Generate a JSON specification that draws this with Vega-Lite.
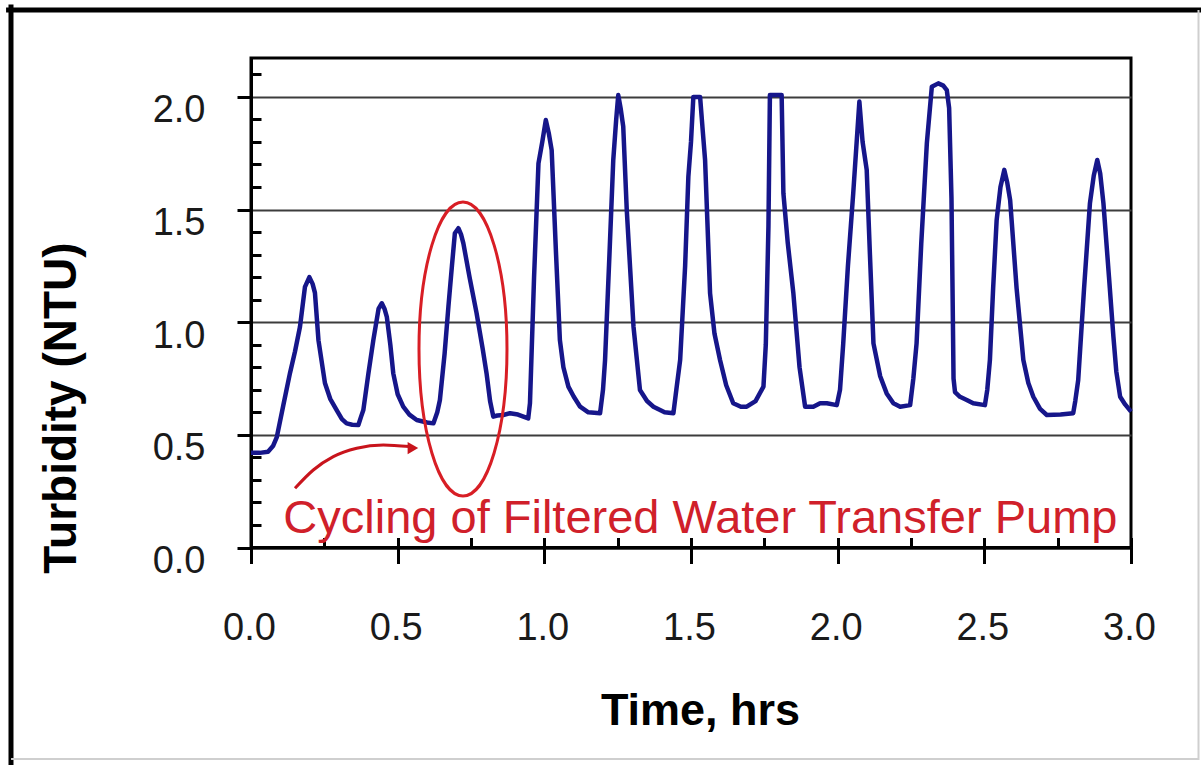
{
  "$schema": "https://vega.github.io/schema/vega-lite/v6.json",
  "width": 880,
  "height": 489.5,
  "autosize": {"type": "none"},
  "padding": {"left": 251, "top": 58, "right": 70, "bottom": 217.5},
  "background": "white",
  "config": {
    "font": "Liberation Sans",
    "view": {"stroke": "black", "strokeWidth": 3}
  },
  "datasets": {
    "series": [
      {"t": 0.000, "v": 0.42}, {"t": 0.030, "v": 0.42}, {"t": 0.058, "v": 0.425}, {"t": 0.075, "v": 0.45},
      {"t": 0.088, "v": 0.49}, {"t": 0.110, "v": 0.63}, {"t": 0.133, "v": 0.775}, {"t": 0.150, "v": 0.87},
      {"t": 0.167, "v": 0.98}, {"t": 0.184, "v": 1.157}, {"t": 0.199, "v": 1.20}, {"t": 0.210, "v": 1.17},
      {"t": 0.218, "v": 1.13}, {"t": 0.230, "v": 0.92}, {"t": 0.252, "v": 0.73}, {"t": 0.270, "v": 0.66},
      {"t": 0.292, "v": 0.61}, {"t": 0.310, "v": 0.57}, {"t": 0.326, "v": 0.551}, {"t": 0.345, "v": 0.545},
      {"t": 0.366, "v": 0.544}, {"t": 0.375, "v": 0.58}, {"t": 0.383, "v": 0.61}, {"t": 0.400, "v": 0.77},
      {"t": 0.417, "v": 0.92}, {"t": 0.435, "v": 1.06}, {"t": 0.446, "v": 1.084}, {"t": 0.455, "v": 1.06},
      {"t": 0.463, "v": 1.024}, {"t": 0.475, "v": 0.90}, {"t": 0.485, "v": 0.773}, {"t": 0.500, "v": 0.68},
      {"t": 0.519, "v": 0.625}, {"t": 0.540, "v": 0.59}, {"t": 0.565, "v": 0.566}, {"t": 0.600, "v": 0.555},
      {"t": 0.622, "v": 0.551}, {"t": 0.635, "v": 0.60}, {"t": 0.644, "v": 0.655}, {"t": 0.660, "v": 0.86},
      {"t": 0.673, "v": 1.069}, {"t": 0.685, "v": 1.25}, {"t": 0.695, "v": 1.395}, {"t": 0.707, "v": 1.417},
      {"t": 0.716, "v": 1.39}, {"t": 0.724, "v": 1.35}, {"t": 0.745, "v": 1.20}, {"t": 0.769, "v": 1.04},
      {"t": 0.790, "v": 0.88}, {"t": 0.803, "v": 0.773}, {"t": 0.815, "v": 0.65}, {"t": 0.826, "v": 0.581},
      {"t": 0.840, "v": 0.586}, {"t": 0.860, "v": 0.588}, {"t": 0.883, "v": 0.596}, {"t": 0.910, "v": 0.59},
      {"t": 0.945, "v": 0.573}, {"t": 0.951, "v": 0.64}, {"t": 0.965, "v": 1.20}, {"t": 0.980, "v": 1.705},
      {"t": 0.993, "v": 1.80}, {"t": 1.005, "v": 1.897}, {"t": 1.015, "v": 1.84}, {"t": 1.025, "v": 1.764},
      {"t": 1.040, "v": 1.30}, {"t": 1.053, "v": 0.921}, {"t": 1.065, "v": 0.80}, {"t": 1.082, "v": 0.714},
      {"t": 1.100, "v": 0.67}, {"t": 1.122, "v": 0.625}, {"t": 1.150, "v": 0.60}, {"t": 1.190, "v": 0.596},
      {"t": 1.200, "v": 0.70}, {"t": 1.207, "v": 0.832}, {"t": 1.222, "v": 1.30}, {"t": 1.235, "v": 1.72},
      {"t": 1.245, "v": 1.90}, {"t": 1.252, "v": 2.008}, {"t": 1.260, "v": 1.95}, {"t": 1.269, "v": 1.868},
      {"t": 1.281, "v": 1.498}, {"t": 1.304, "v": 0.98}, {"t": 1.326, "v": 0.699}, {"t": 1.350, "v": 0.65},
      {"t": 1.372, "v": 0.625}, {"t": 1.410, "v": 0.60}, {"t": 1.440, "v": 0.596}, {"t": 1.450, "v": 0.70},
      {"t": 1.463, "v": 0.832}, {"t": 1.480, "v": 1.25}, {"t": 1.491, "v": 1.646}, {"t": 1.500, "v": 1.80},
      {"t": 1.508, "v": 2.0}, {"t": 1.531, "v": 2.0}, {"t": 1.540, "v": 1.85}, {"t": 1.548, "v": 1.72},
      {"t": 1.565, "v": 1.128}, {"t": 1.580, "v": 0.95}, {"t": 1.599, "v": 0.832}, {"t": 1.620, "v": 0.72},
      {"t": 1.644, "v": 0.64}, {"t": 1.670, "v": 0.625}, {"t": 1.690, "v": 0.625}, {"t": 1.720, "v": 0.65},
      {"t": 1.747, "v": 0.714}, {"t": 1.755, "v": 0.90}, {"t": 1.764, "v": 1.424}, {"t": 1.769, "v": 2.008},
      {"t": 1.809, "v": 2.008}, {"t": 1.815, "v": 1.572}, {"t": 1.830, "v": 1.35}, {"t": 1.849, "v": 1.128},
      {"t": 1.870, "v": 0.80}, {"t": 1.889, "v": 0.625}, {"t": 1.917, "v": 0.625}, {"t": 1.940, "v": 0.64},
      {"t": 1.963, "v": 0.64}, {"t": 1.997, "v": 0.632}, {"t": 2.008, "v": 0.70}, {"t": 2.019, "v": 0.906},
      {"t": 2.035, "v": 1.25}, {"t": 2.053, "v": 1.572}, {"t": 2.074, "v": 1.979}, {"t": 2.085, "v": 1.80},
      {"t": 2.099, "v": 1.676}, {"t": 2.110, "v": 1.30}, {"t": 2.122, "v": 0.906}, {"t": 2.145, "v": 0.76},
      {"t": 2.167, "v": 0.684}, {"t": 2.190, "v": 0.64}, {"t": 2.213, "v": 0.625}, {"t": 2.247, "v": 0.632},
      {"t": 2.258, "v": 0.75}, {"t": 2.269, "v": 0.906}, {"t": 2.285, "v": 1.35}, {"t": 2.304, "v": 1.794},
      {"t": 2.321, "v": 2.045}, {"t": 2.343, "v": 2.06}, {"t": 2.360, "v": 2.05}, {"t": 2.372, "v": 2.03},
      {"t": 2.380, "v": 1.95}, {"t": 2.388, "v": 1.55}, {"t": 2.392, "v": 1.10}, {"t": 2.395, "v": 0.75},
      {"t": 2.400, "v": 0.69}, {"t": 2.417, "v": 0.669}, {"t": 2.440, "v": 0.655}, {"t": 2.462, "v": 0.64},
      {"t": 2.502, "v": 0.632}, {"t": 2.510, "v": 0.70}, {"t": 2.519, "v": 0.832}, {"t": 2.530, "v": 1.15},
      {"t": 2.542, "v": 1.454}, {"t": 2.555, "v": 1.60}, {"t": 2.568, "v": 1.676}, {"t": 2.578, "v": 1.62},
      {"t": 2.588, "v": 1.542}, {"t": 2.610, "v": 1.15}, {"t": 2.633, "v": 0.832}, {"t": 2.650, "v": 0.73},
      {"t": 2.667, "v": 0.669}, {"t": 2.690, "v": 0.615}, {"t": 2.713, "v": 0.588}, {"t": 2.760, "v": 0.59},
      {"t": 2.803, "v": 0.596}, {"t": 2.810, "v": 0.65}, {"t": 2.820, "v": 0.743}, {"t": 2.840, "v": 1.15},
      {"t": 2.860, "v": 1.528}, {"t": 2.873, "v": 1.65}, {"t": 2.885, "v": 1.72}, {"t": 2.895, "v": 1.66},
      {"t": 2.906, "v": 1.528}, {"t": 2.925, "v": 1.20}, {"t": 2.940, "v": 0.936}, {"t": 2.950, "v": 0.78},
      {"t": 2.963, "v": 0.669}, {"t": 2.980, "v": 0.635}, {"t": 3.000, "v": 0.603}
    ],
    "arrow": [
      {"t": 0.150, "v": 0.263}, {"t": 0.2124, "v": 0.344}, {"t": 0.2806, "v": 0.403},
      {"t": 0.3604, "v": 0.4403}, {"t": 0.451, "v": 0.455}, {"t": 0.540, "v": 0.448}
    ],
    "arrowHead": [{"t": 0.552, "v": 0.4416}],
    "ellipse": [{"t": 0.7227, "v": 0.881}],
    "note": [{"t": 1.532, "v": 0.064, "label": "Cycling of Filtered Water Transfer Pump"}],
    "frameBlack": [
      {"t": -0.835, "t2": 3.242, "v": 2.3857, "v2": 2.3857},
      {"t": -0.8182, "t2": -0.8182, "v": 2.41, "v2": -0.97}
    ],
    "frameGray": [
      {"t": 3.2301, "t2": 3.2301, "v": 2.3857, "v2": -0.943},
      {"t": -0.818, "t2": 3.2318, "v": -0.9387, "v2": -0.9387}
    ]
  },
  "encoding": {
    "x": {
      "field": "t", "type": "quantitative",
      "scale": {"domain": [0, 3], "nice": false, "zero": false},
      "axis": {
        "title": "Time, hrs",
        "values": [0, 0.25, 0.5, 0.75, 1, 1.25, 1.5, 1.75, 2, 2.25, 2.5, 2.75, 3],
        "labelExpr": "abs(datum.value*2-round(datum.value*2))<0.01 ? format(datum.value, '.1f') : ''",
        "labelFont": "Liberation Sans", "labelFontSize": 38, "labelColor": "#1a1a1a",
        "labelBaseline": "top", "labelPadding": 46, "labelOffset": -2,
        "labelFlush": false, "labelOverlap": false, "labelBound": false,
        "tickSize": 16, "tickWidth": 3, "tickColor": "black",
        "tickOpacity": {"condition": {"test": "abs(datum.value*2-round(datum.value*2))<0.01", "value": 1}, "value": 0},
        "domainColor": "black", "domainWidth": 3,
        "grid": true, "gridColor": "black", "gridWidth": 3, "gridOpacity": 1,
        "gridDash": [0, 479.5, 10, 1000],
        "titleFont": "Liberation Sans", "titleFontSize": 45, "titleFontWeight": "bold", "titleColor": "black",
        "titleX": 449, "titleY": 176.5, "titleBaseline": "alphabetic", "titleAlign": "center"
      }
    },
    "y": {
      "field": "v", "type": "quantitative",
      "scale": {"domain": [0, 2.1726], "nice": false, "zero": false},
      "axis": {
        "title": "Turbidity (NTU)",
        "values": [0, 0.1, 0.2, 0.3, 0.4, 0.5, 0.6, 0.7, 0.8, 0.9, 1, 1.1, 1.2, 1.3, 1.4, 1.5, 1.6, 1.7, 1.8, 1.9, 2, 2.1],
        "labelExpr": "abs(datum.value*2-round(datum.value*2))<0.01 ? format(datum.value, '.1f') : ''",
        "labelFont": "Liberation Sans", "labelFontSize": 38, "labelColor": "#1a1a1a",
        "labelBaseline": "middle", "labelAlign": "right", "labelPadding": 32, "labelOffset": 14,
        "labelFlush": false, "labelOverlap": false, "labelBound": false,
        "tickSize": 14, "tickWidth": 3, "tickColor": "black",
        "tickOpacity": {"condition": {"test": "abs(datum.value*2-round(datum.value*2))<0.01", "value": 1}, "value": 0},
        "domainColor": "black", "domainWidth": 3,
        "grid": true, "gridOpacity": 1,
        "gridColor": {"condition": {"test": "abs(datum.value*2-round(datum.value*2))<0.01", "value": "#3c3c3c"}, "value": "black"},
        "gridWidth": {"condition": {"test": "abs(datum.value*2-round(datum.value*2))<0.01", "value": 2}, "value": 3},
        "gridDash": {"condition": {"test": "abs(datum.value*2-round(datum.value*2))<0.01", "value": [1000, 0]}, "value": [10, 2000]},
        "titleFont": "Liberation Sans", "titleFontSize": 46, "titleFontWeight": "bold", "titleColor": "black",
        "titleX": -176, "titleY": 349.5, "titleBaseline": "alphabetic", "titleAlign": "center", "titleAngle": 270
      }
    }
  },
  "layer": [
    {
      "data": {"name": "frameBlack"},
      "mark": {"type": "rule", "color": "black", "strokeWidth": 5},
      "encoding": {"x2": {"field": "t2"}, "y2": {"field": "v2"}}
    },
    {
      "data": {"name": "frameGray"},
      "mark": {"type": "rule", "color": "#cfcfcf", "strokeWidth": 2},
      "encoding": {"x2": {"field": "t2"}, "y2": {"field": "v2"}}
    },
    {
      "data": {"name": "series"},
      "mark": {"type": "line", "color": "#16168a", "strokeWidth": 4.5, "strokeJoin": "round"}
    },
    {
      "data": {"name": "ellipse"},
      "mark": {
        "type": "point", "filled": false, "color": "#d81e25", "strokeWidth": 3, "opacity": 1,
        "shape": "M 0.2993 0 C 0.2993 0.5523 0.1653 1 0 1 C -0.1653 1 -0.2993 0.5523 -0.2993 0 C -0.2993 -0.5523 -0.1653 -1 0 -1 C 0.1653 -1 0.2993 -0.5523 0.2993 0 Z",
        "size": 86436
      }
    },
    {
      "data": {"name": "arrow"},
      "mark": {"type": "line", "color": "#c8141c", "strokeWidth": 3, "interpolate": "monotone"}
    },
    {
      "data": {"name": "arrowHead"},
      "mark": {"type": "point", "shape": "triangle-right", "filled": true, "color": "#c8141c", "size": 150, "opacity": 1}
    },
    {
      "data": {"name": "note"},
      "mark": {"type": "text", "font": "Liberation Sans", "fontSize": 47, "color": "#d0202a", "align": "center", "baseline": "alphabetic"},
      "encoding": {"text": {"field": "label"}}
    }
  ]
}
